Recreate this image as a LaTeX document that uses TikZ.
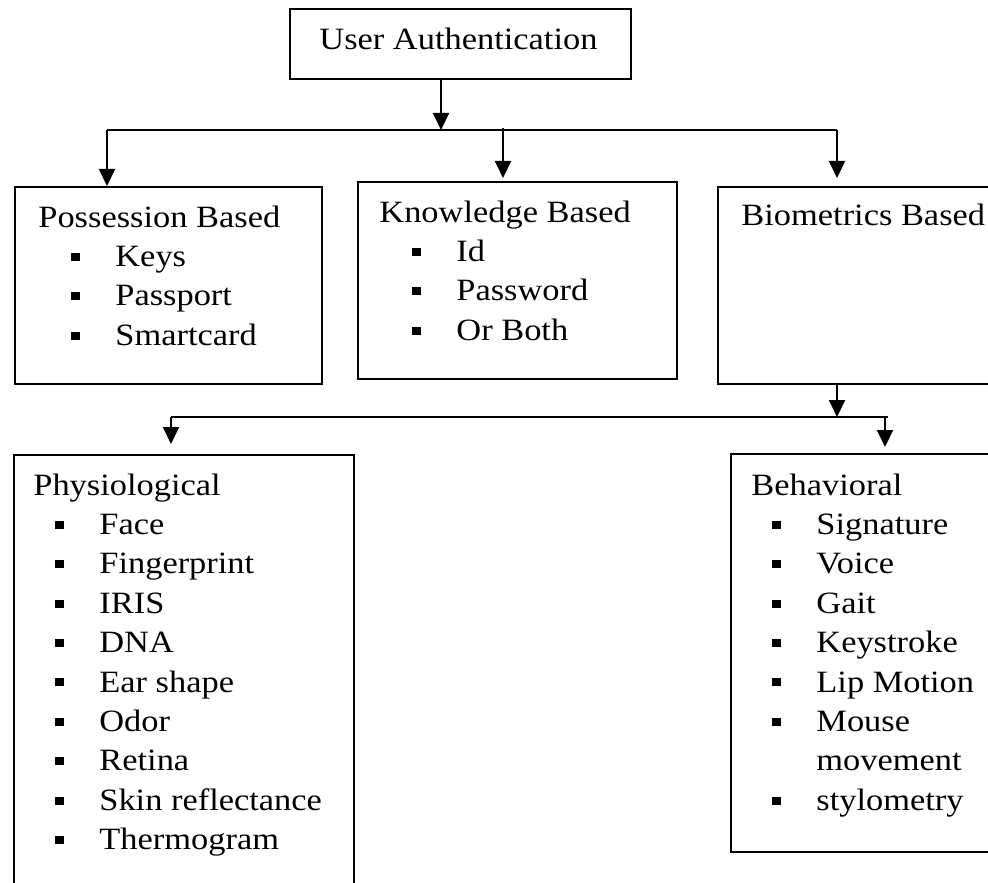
\documentclass[tikz,border=0pt]{standalone}
\usepackage{fontspec}
\setmainfont{Liberation Serif}[FakeStretch=1.11]
\usepackage{tikz}
\usetikzlibrary{arrows.meta}

\newcommand{\sqb}{\rule[2.8pt]{4.5pt}{4pt}}
\newcommand{\bitem}[2]{\hspace*{#1}\sqb\hspace*{17.5pt}#2}
\newcommand{\bcont}[2]{\hspace*{\dimexpr#1+22pt\relax}#2}

\begin{document}
\begin{tikzpicture}[x=0.5pt,y=-0.5pt,
    blk/.style={draw,line width=1pt,inner sep=0pt,anchor=north west},
    txt/.style={anchor=base west,inner sep=0pt,font=\fontsize{15.5}{19.7}\selectfont},
    ln/.style={line width=1pt},
    arr/.style={ln,-{Triangle[width=8pt,length=8.5pt]}}
]
    \clip (0,0) rectangle (988,882);

    % boxes
    \node[blk,minimum width=170.5pt,minimum height=35pt] (ua) at (289,8) {};
    \node[blk,minimum width=153.5pt,minimum height=98.5pt] (poss) at (14,186) {};
    \node[blk,minimum width=159.5pt,minimum height=98.5pt] (know) at (357,181) {};
    \node[blk,minimum width=160pt,minimum height=98.5pt] (bio) at (717,186) {};
    \node[blk,minimum width=170pt,minimum height=230pt] (phys) at (13,454) {};
    \node[blk,minimum width=150pt,minimum height=199pt] (behav) at (730,453) {};

    % texts
    \node[txt] (ua-t) at ([shift={(30,42)}]ua.north west) {User Authentication};
    \node[txt] (poss-t) at ([shift={(24,41)}]poss.north west) {\begin{tabular}[t]{@{}l@{}}
        Possession Based\\
        \bitem{16.5pt}{Keys}\\
        \bitem{16.5pt}{Passport}\\
        \bitem{16.5pt}{Smartcard}
    \end{tabular}};
    \node[txt] (know-t) at ([shift={(22,41)}]know.north west) {\begin{tabular}[t]{@{}l@{}}
        Knowledge Based\\
        \bitem{16.5pt}{Id}\\
        \bitem{16.5pt}{Password}\\
        \bitem{16.5pt}{Or Both}
    \end{tabular}};
    \node[txt] (bio-t) at ([shift={(24,39)}]bio.north west) {Biometrics Based};
    \node[txt] (phys-t) at ([shift={(20,41)}]phys.north west) {\begin{tabular}[t]{@{}l@{}}
        Physiological\\
        \bitem{11pt}{Face}\\
        \bitem{11pt}{Fingerprint}\\
        \bitem{11pt}{IRIS}\\
        \bitem{11pt}{DNA}\\
        \bitem{11pt}{Ear shape}\\
        \bitem{11pt}{Odor}\\
        \bitem{11pt}{Retina}\\
        \bitem{11pt}{Skin reflectance}\\
        \bitem{11pt}{Thermogram}
    \end{tabular}};
    \node[txt] (behav-t) at ([shift={(21,42)}]behav.north west) {\begin{tabular}[t]{@{}l@{}}
        Behavioral\\
        \bitem{10.5pt}{Signature}\\
        \bitem{10.5pt}{Voice}\\
        \bitem{10.5pt}{Gait}\\
        \bitem{10.5pt}{Keystroke}\\
        \bitem{10.5pt}{Lip Motion}\\
        \bitem{10.5pt}{Mouse}\\
        \bcont{10.5pt}{movement}\\
        \bitem{10.5pt}{stylometry}
    \end{tabular}};

    % junctions
    \coordinate (top) at (441,130);
    \coordinate (busl) at (107,130);
    \coordinate (busk) at (503,128);
    \coordinate (busr) at (837,130);
    \coordinate (low) at (837,417);
    \coordinate (lowl) at (171,417);
    \coordinate (lowr) at (888,417);
    \coordinate (lowb) at (885,417);

    % connectors
    \draw[arr] (ua.south -| top) -- (top);
    \draw[ln] (busl) -- (busr);
    \draw[arr] (busl) -- (poss.north -| busl);
    \draw[arr,shorten >=1.5pt] (busk) -- (know.north -| busk);
    \draw[arr,shorten >=4pt] (busr) -- (bio.north -| busr);
    \draw[arr] (bio.south -| low) -- (low);
    \draw[ln] (lowl) -- (lowr);
    \draw[arr,shorten >=5pt] (lowl) -- (phys.north -| lowl);
    \draw[arr,shorten >=3pt] (lowb) -- (behav.north -| lowb);
\end{tikzpicture}
\end{document}
